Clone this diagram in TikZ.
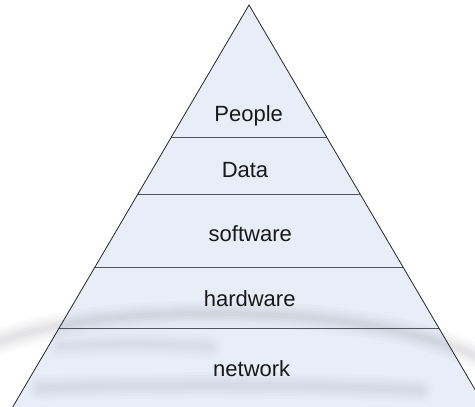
\documentclass[tikz,border=0pt]{standalone}
\usepackage{fontspec}
\setmainfont{Liberation Sans}
\begin{document}
\definecolor{tierfill}{HTML}{E8EDF7}
\definecolor{tierline}{HTML}{55555D}
\definecolor{haze}{HTML}{7A7A82}
\begin{tikzpicture}[x=1pt,y=-1pt,
  edge/.style={draw=black!85,line width=0.8pt,line join=miter},
  divider/.style={draw=tierline,line width=1.5pt},
  label/.style={anchor=base,inner sep=0pt,font=\fontsize{22}{24}\selectfont,text=black!90},
  soft/.style={draw=haze,line cap=round,line join=round}]
\useasboundingbox (0,0) rectangle (475,407);
\fill[white] (0,0) rectangle (475,407);

% pyramid corners
\coordinate (apex) at (249,5);
\coordinate (bl) at (12.7,407);
\coordinate (br) at (485.3,407);

\fill[tierfill] (apex) -- (bl) -- (br) -- cycle;

% soft grey bands lying across the lower part
\foreach \w/\o in {26/0.03,20/0.035,15/0.04,10/0.045,5/0.05}{
  \draw[soft,line width=\w pt,opacity=\o]
    (-10,345) .. controls (60,318) and (150,312) .. (240,314)
              .. controls (340,316) and (420,330) .. (485,360);
  \draw[soft,line width=\w pt,opacity=\o*0.8]
    (40,388) .. controls (150,384) and (300,384) .. (420,390);
  \draw[soft,line width=\w pt,opacity=\o*0.6]
    (60,346) .. controls (110,343) and (170,343) .. (210,347);
}

% horizontal tier borders, kept inside the pyramid
\begin{scope}
  \clip (apex) -- (bl) -- (br) -- cycle;
  \coordinate (d1l) at (0,137.7);  \coordinate (d1r) at (475,137.7);
  \coordinate (d2l) at (0,194.3);  \coordinate (d2r) at (475,194.3);
  \coordinate (d3l) at (0,267.5);  \coordinate (d3r) at (475,267.5);
  \coordinate (d4l) at (0,328.3);  \coordinate (d4r) at (475,328.3);
  \draw[divider] (d1l) -- (d1r);
  \draw[divider] (d2l) -- (d2r);
  \draw[divider] (d3l) -- (d3r);
  \draw[divider] (d4l) -- (d4r);
\end{scope}

\draw[edge] (bl) -- (apex) -- (br);

\node[label] (people)   at (248.7,121.0) {People};
\node[label] (data)     at (245.0,177.3) {Data};
\node[label] (software) at (250.3,241.7) {software};
\node[label] (hardware) at (249.7,306.0) {hardware};
\node[label] (network)  at (251.7,376.7) {network};
\end{tikzpicture}
\end{document}
